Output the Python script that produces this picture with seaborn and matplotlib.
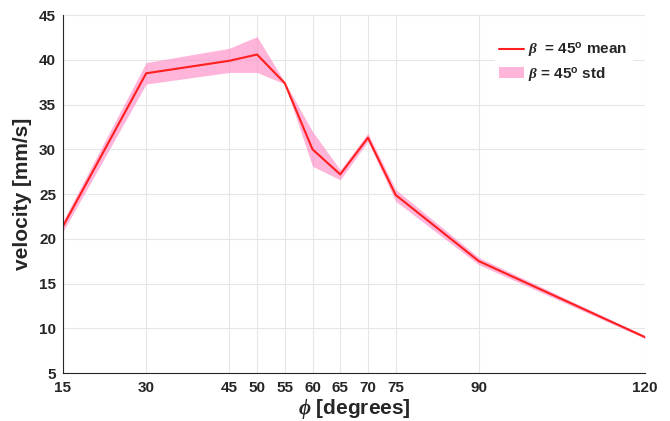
import matplotlib
matplotlib.use("Agg")
import matplotlib.pyplot as plt
import seaborn as sns
import numpy as np
import pandas as pd

# Data
phi = [15, 30, 45, 50, 55, 60, 65, 70, 75, 90, 120]
vel_mean = [21.4, 38.5, 39.9, 40.6, 37.4, 30.0, 27.2, 31.3, 24.9, 17.5, 9.0]
vel_lower = [20.8, 37.3, 38.6, 38.6, 37.3, 28.1, 26.6, 30.9, 24.2, 17.1, 8.85]
vel_upper = [22.0, 39.7, 41.3, 42.6, 37.5, 32.0, 27.7, 31.8, 25.5, 17.9, 9.15]
xticks = [15, 30, 45, 50, 55, 60, 65, 70, 75, 90, 120]
yticks = [5, 10, 15, 20, 25, 30, 35, 40, 45]

df = pd.DataFrame({"phi": phi, "mean": vel_mean})

sns.set_style("whitegrid")
plt.rcParams['font.family'] = ['Liberation Sans', 'DejaVu Sans']
plt.rcParams['font.weight'] = 'bold'
plt.rcParams['mathtext.fontset'] = 'custom'
plt.rcParams['mathtext.it'] = 'Liberation Serif:italic'
plt.rcParams['mathtext.rm'] = 'Liberation Sans:bold'

fig = plt.figure(figsize=(6.70, 4.21), dpi=100)
ax = fig.add_axes([0.094, 0.114, 0.869, 0.85])

band = ax.fill_between(phi, vel_lower, vel_upper, color='#ff8cc6', alpha=0.65,
                       linewidth=0, label=r'$\beta$ = 45$^{\mathrm{o}}$ std')
sns.lineplot(data=df, x="phi", y="mean", color='#ff1f1f', linewidth=1.5, ax=ax,
             label=r'$\beta$  = 45$^{\mathrm{o}}$ mean')

ax.set_xlim(15, 120)
ax.set_ylim(5, 45)
ax.set_xticks(xticks)
ax.set_yticks(yticks)
ax.tick_params(axis='both', labelsize=11, colors='#262626', length=4,
               direction='in', width=0.8)
ax.tick_params(axis='x', pad=6)
ax.tick_params(axis='y', pad=5)
for lbl in ax.get_xticklabels() + ax.get_yticklabels():
    lbl.set_fontweight('bold')

ax.grid(True, color='#e6e6e6', linewidth=0.8)
for s in ['top', 'right']:
    ax.spines[s].set_visible(False)
for s in ['left', 'bottom']:
    ax.spines[s].set_color('#262626')
    ax.spines[s].set_linewidth(0.8)

ax.set_xlabel(r'$\phi$ [degrees]', fontsize=15, fontweight='bold', labelpad=1)
ax.set_ylabel('velocity [mm/s]', fontsize=15, fontweight='bold', labelpad=5)

handles, labels = ax.get_legend_handles_labels()
order = [labels.index(l) for l in labels if 'mean' in l] + [labels.index(l) for l in labels if 'std' in l]
leg = ax.legend([handles[i] for i in order], [labels[i] for i in order],
                loc='upper right', bbox_to_anchor=(0.99, 0.96), fontsize=11,
                frameon=True, facecolor='white', edgecolor='white', framealpha=1,
                handlelength=1.6, handletextpad=0.3, borderpad=0.3, labelspacing=0.3)
for t in leg.get_texts():
    t.set_fontweight('bold')

fig.savefig("out.png", dpi=100)
